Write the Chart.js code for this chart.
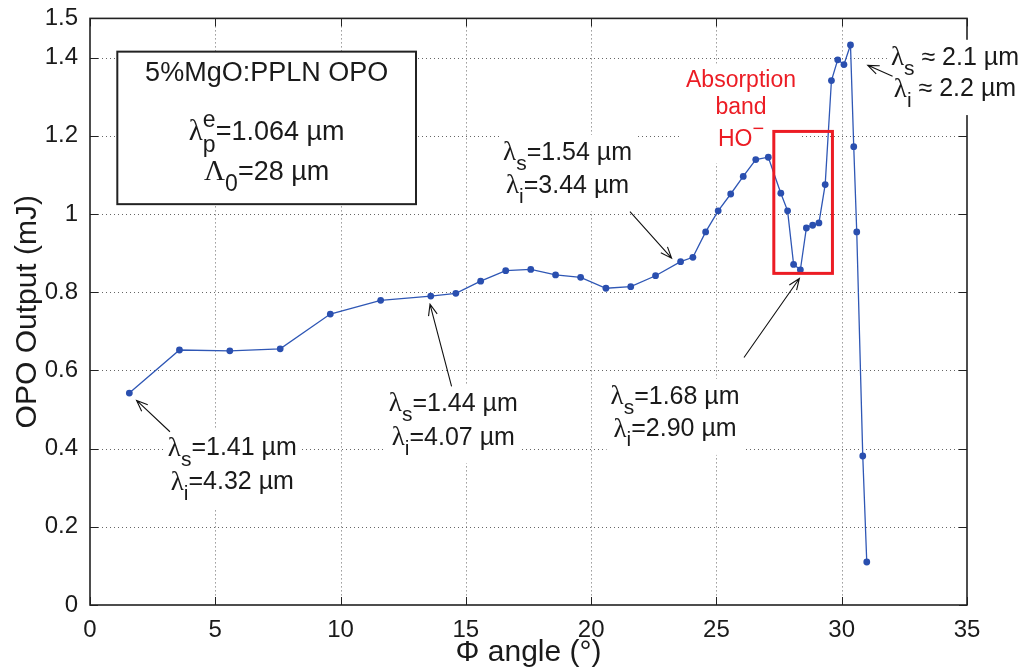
<!DOCTYPE html>
<html>
<head>
<meta charset="utf-8">
<script src="https://cdn.jsdelivr.net/npm/chart.js@4.4.1/dist/chart.umd.min.js"></script>
<style>
    html, body { margin: 0; padding: 0; background: #fff; }
</style>
</head>
<body>
<canvas id="opoChart" width="1018" height="670"></canvas>
<script>
// measured points: phase-matching angle (deg) vs OPO output energy (mJ)
const angleDeg = [
    1.57, 3.57, 5.58, 7.59, 9.59, 11.6, 13.6, 14.6, 15.59, 16.59,
    17.59, 18.58, 19.58, 20.59, 21.58, 22.57, 23.57, 24.06, 24.57, 25.07,
    25.57, 26.07, 26.57, 27.07, 27.57, 27.84, 28.08, 28.35, 28.59, 28.84,
    29.09, 29.34, 29.59, 29.84, 30.09, 30.35, 30.48, 30.6, 30.84, 31.0
];
const outputMJ = [
    0.542, 0.652, 0.650, 0.655, 0.744, 0.779, 0.790, 0.797, 0.828, 0.855,
    0.858, 0.844, 0.838, 0.810, 0.814, 0.842, 0.878, 0.889, 0.954, 1.008,
    1.051, 1.096, 1.139, 1.145, 1.053, 1.008, 0.871, 0.857, 0.964, 0.971,
    0.977, 1.075, 1.341, 1.394, 1.382, 1.432, 1.172, 0.954, 0.381, 0.110
];
const xTicks = [0, 5, 10, 15, 20, 25, 30, 35];
const yTicks = [0, 0.2, 0.4, 0.6, 0.8, 1, 1.2, 1.4, 1.5];

const FONT = '"Liberation Sans", Arial, Helvetica, sans-serif';
const GREEK = '"Liberation Serif", "Times New Roman", serif';

// helper for "λ_s=..." style lines
function lam(sym, sub, rest) {
    return [{ t: sym, g: true }, { t: sub, sub: true }, { t: rest }];
}

// annotation texts, placed in data units (angle, mJ)
const lambdaNotes = [
    { cx: 5.68, cy: [0.400, 0.313], lines: [lam("λ", "s", "=1.41 µm"), lam("λ", "i", "=4.32 µm")],
      tail: [3.19, 0.443], head: [1.86, 0.523] },
    { cx: 14.5, cy: [0.513, 0.428], lines: [lam("λ", "s", "=1.44 µm"), lam("λ", "i", "=4.07 µm")],
      tail: [14.43, 0.559], head: [13.57, 0.769] },
    { cx: 19.06, cy: [1.155, 1.072], lines: [lam("λ", "s", "=1.54 µm"), lam("λ", "i", "=3.44 µm")],
      tail: [21.55, 1.006], head: [23.21, 0.887] },
    { cx: 23.35, cy: [0.531, 0.449], lines: [lam("λ", "s", "=1.68 µm"), lam("λ", "i", "=2.90 µm")],
      tail: [26.1, 0.633], head: [28.31, 0.835] },
    { cx: 34.52, cy: [1.398, 1.318], lines: [lam("λ", "s", " ≈ 2.1 µm"), lam("λ", "i", " ≈ 2.2 µm")],
      tail: [32.03, 1.352], head: [31.04, 1.38] },
];

const crystalBox = {
    x0: 1.09, x1: 13.01, y0: 1.025, y1: 1.415, cx: 7.05,
    cy: [1.360, 1.208, 1.106],
    lines: [
        [{ t: "5%MgO:PPLN OPO" }],
        [{ t: "λ", g: true }, { stack: ["p", "e"] }, { t: "=1.064 µm" }],
        [{ t: "Λ", g: true }, { t: "0", sub: true }, { t: "=28 µm" }],
    ],
};

const absorption = {
    cx: 25.98, cy: [1.34, 1.271, 1.19],
    lines: [[{ t: "Absorption" }], [{ t: "band" }], [{ t: "HO" }, { t: "−", sup: true }]],
    rect: { x0: 27.29, x1: 29.63, y0: 0.848, y1: 1.211 },
};

function segFont(s, size) {
    if (s.g) return Math.round(size * 1.08) + "px " + GREEK;
    if (s.sub || s.sup || s.stack) return Math.round(size * 0.85) + "px " + FONT;
    return size + "px " + FONT;
}

function segWidth(ctx, s, size) {
    ctx.font = segFont(s, size);
    if (s.stack) return Math.max(ctx.measureText(s.stack[0]).width, ctx.measureText(s.stack[1]).width);
    return ctx.measureText(s.t).width;
}

function lineWidth(ctx, segs, size) {
    return segs.reduce((w, s) => w + segWidth(ctx, s, size), 0);
}

function drawRichLine(ctx, segs, cx, cy, size, color) {
    let px = cx - lineWidth(ctx, segs, size) / 2;
    ctx.fillStyle = color;
    ctx.textAlign = "left";
    ctx.textBaseline = "middle";
    segs.forEach((s) => {
        const w = segWidth(ctx, s, size);
        ctx.font = segFont(s, size);
        if (s.stack) {
            ctx.fillText(s.stack[0], px, cy + size * 0.5);
            ctx.fillText(s.stack[1], px, cy - size * 0.45);
        } else {
            const dy = s.sub ? size * 0.45 : s.sup ? -size * 0.42 : 0;
            ctx.fillText(s.t, px, cy + dy);
        }
        px += w;
    });
}

// text block with white background, like MATLAB text objects
function drawNote(ctx, x, y, note, size, color) {
    const cx = x.getPixelForValue(note.cx);
    const ys = note.cy.map((v) => y.getPixelForValue(v));
    const w = Math.max(...note.lines.map((l) => lineWidth(ctx, l, size)));
    const top = Math.min(...ys) - size * 0.62 - 3;
    const bottom = Math.max(...ys) + size * 0.9 + 3;
    ctx.fillStyle = "#fff";
    ctx.fillRect(cx - w / 2 - 4, top, w + 8, bottom - top);
    note.lines.forEach((l, i) => drawRichLine(ctx, l, cx, ys[i], size, color));
}

function drawArrow(ctx, x, y, tail, head) {
    const x1 = x.getPixelForValue(tail[0]), y1 = y.getPixelForValue(tail[1]);
    const x2 = x.getPixelForValue(head[0]), y2 = y.getPixelForValue(head[1]);
    const ang = Math.atan2(y2 - y1, x2 - x1);
    const len = 12, spread = 0.38;
    ctx.strokeStyle = "#111";
    ctx.lineWidth = 1.1;
    ctx.beginPath();
    ctx.moveTo(x1, y1);
    ctx.lineTo(x2, y2);
    ctx.moveTo(x2 - len * Math.cos(ang - spread), y2 - len * Math.sin(ang - spread));
    ctx.lineTo(x2, y2);
    ctx.lineTo(x2 - len * Math.cos(ang + spread), y2 - len * Math.sin(ang + spread));
    ctx.stroke();
}

const framePlugin = {
    id: "frame",
    beforeDatasetsDraw(chart) {
        const { ctx, chartArea: a, scales: { x, y } } = chart;
        ctx.save();

        // dotted grid
        ctx.strokeStyle = "#666";
        ctx.lineWidth = 1;
        ctx.setLineDash([1, 3]);
        ctx.beginPath();
        xTicks.filter((v) => v > 0 && v < 35).forEach((v) => {
            const px = Math.round(x.getPixelForValue(v)) + 0.5;
            ctx.moveTo(px, a.top);
            ctx.lineTo(px, a.bottom);
        });
        yTicks.filter((v) => v > 0 && v < 1.5).forEach((v) => {
            const py = Math.round(y.getPixelForValue(v)) + 0.5;
            ctx.moveTo(a.left, py);
            ctx.lineTo(a.right, py);
        });
        ctx.stroke();
        ctx.setLineDash([]);

        // inward tick marks on all four sides
        ctx.strokeStyle = "#222";
        ctx.beginPath();
        xTicks.forEach((v) => {
            const px = Math.round(x.getPixelForValue(v)) + 0.5;
            ctx.moveTo(px, a.bottom); ctx.lineTo(px, a.bottom - 8);
            ctx.moveTo(px, a.top); ctx.lineTo(px, a.top + 8);
        });
        yTicks.forEach((v) => {
            const py = Math.round(y.getPixelForValue(v)) + 0.5;
            ctx.moveTo(a.left, py); ctx.lineTo(a.left + 8, py);
            ctx.moveTo(a.right, py); ctx.lineTo(a.right - 8, py);
        });
        ctx.stroke();

        // axes box
        ctx.lineWidth = 1.6;
        ctx.strokeRect(a.left, a.top, a.right - a.left, a.bottom - a.top);

        // crystal info box
        const bx0 = x.getPixelForValue(crystalBox.x0), bx1 = x.getPixelForValue(crystalBox.x1);
        const by0 = y.getPixelForValue(crystalBox.y1), by1 = y.getPixelForValue(crystalBox.y0);
        ctx.fillStyle = "#fff";
        ctx.fillRect(bx0, by0, bx1 - bx0, by1 - by0);
        ctx.lineWidth = 2;
        ctx.strokeStyle = "#222";
        ctx.strokeRect(bx0, by0, bx1 - bx0, by1 - by0);
        crystalBox.lines.forEach((l, i) =>
            drawRichLine(ctx, l, x.getPixelForValue(crystalBox.cx), y.getPixelForValue(crystalBox.cy[i]), 27, "#1a1a1a"));

        lambdaNotes.forEach((n) => drawNote(ctx, x, y, n, 25, "#1a1a1a"));
        drawNote(ctx, x, y, absorption, 23, "#ec1c24");
        ctx.restore();
    },
    afterDatasetsDraw(chart) {
        const { ctx, scales: { x, y } } = chart;
        ctx.save();
        lambdaNotes.forEach((n) => drawArrow(ctx, x, y, n.tail, n.head));
        const r = absorption.rect;
        const rx0 = x.getPixelForValue(r.x0), rx1 = x.getPixelForValue(r.x1);
        const ry0 = y.getPixelForValue(r.y1), ry1 = y.getPixelForValue(r.y0);
        ctx.strokeStyle = "#ec1c24";
        ctx.lineWidth = 3;
        ctx.strokeRect(rx0, ry0, rx1 - rx0, ry1 - ry0);
        ctx.restore();
    },
};

const opoChart = new Chart(document.getElementById("opoChart").getContext("2d"), {
    type: "line",
    data: {
        datasets: [
            {
                data: angleDeg.map((a, i) => ({ x: a, y: outputMJ[i] })),
                borderColor: "#2f57b5",
                backgroundColor: "#2a4faf",
                borderWidth: 1.3,
                pointRadius: 3.4,
                pointBorderWidth: 0,
                pointHoverRadius: 3.4,
                tension: 0,
                fill: false,
            },
        ],
    },
    options: {
        responsive: false,
        animation: false,
        events: [],
        layout: { padding: { top: 15, right: 51, left: 0, bottom: 0 } },
        plugins: { legend: { display: false }, tooltip: { enabled: false } },
        scales: {
            x: {
                type: "linear",
                min: 0,
                max: 35,
                afterBuildTicks: (s) => { s.ticks = xTicks.map((v) => ({ value: v })); },
                afterFit: (s) => { s.height = 65; },
                grid: { display: false },
                border: { display: false },
                ticks: { font: { family: FONT, size: 24 }, color: "#1a1a1a", padding: 3, maxRotation: 0 },
                title: {
                    display: true,
                    text: "Φ angle (°)",
                    font: { family: FONT, size: 30, lineHeight: 1 },
                    color: "#1a1a1a",
                    padding: { top: 0, bottom: 2 },
                },
            },
            y: {
                min: 0,
                max: 1.5,
                afterBuildTicks: (s) => { s.ticks = yTicks.map((v) => ({ value: v })); },
                afterFit: (s) => { s.width = 90; },
                grid: { display: false },
                border: { display: false },
                ticks: {
                    font: { family: FONT, size: 24 },
                    color: "#1a1a1a",
                    padding: 4,
                    callback: (v) => String(+v.toFixed(1)),
                },
                title: {
                    display: true,
                    text: "OPO Output (mJ)",
                    font: { family: FONT, size: 30, lineHeight: 1 },
                    color: "#1a1a1a",
                    padding: { top: 13, bottom: 0 },
                },
            },
        },
    },
    plugins: [framePlugin],
});
</script>
</body>
</html>
